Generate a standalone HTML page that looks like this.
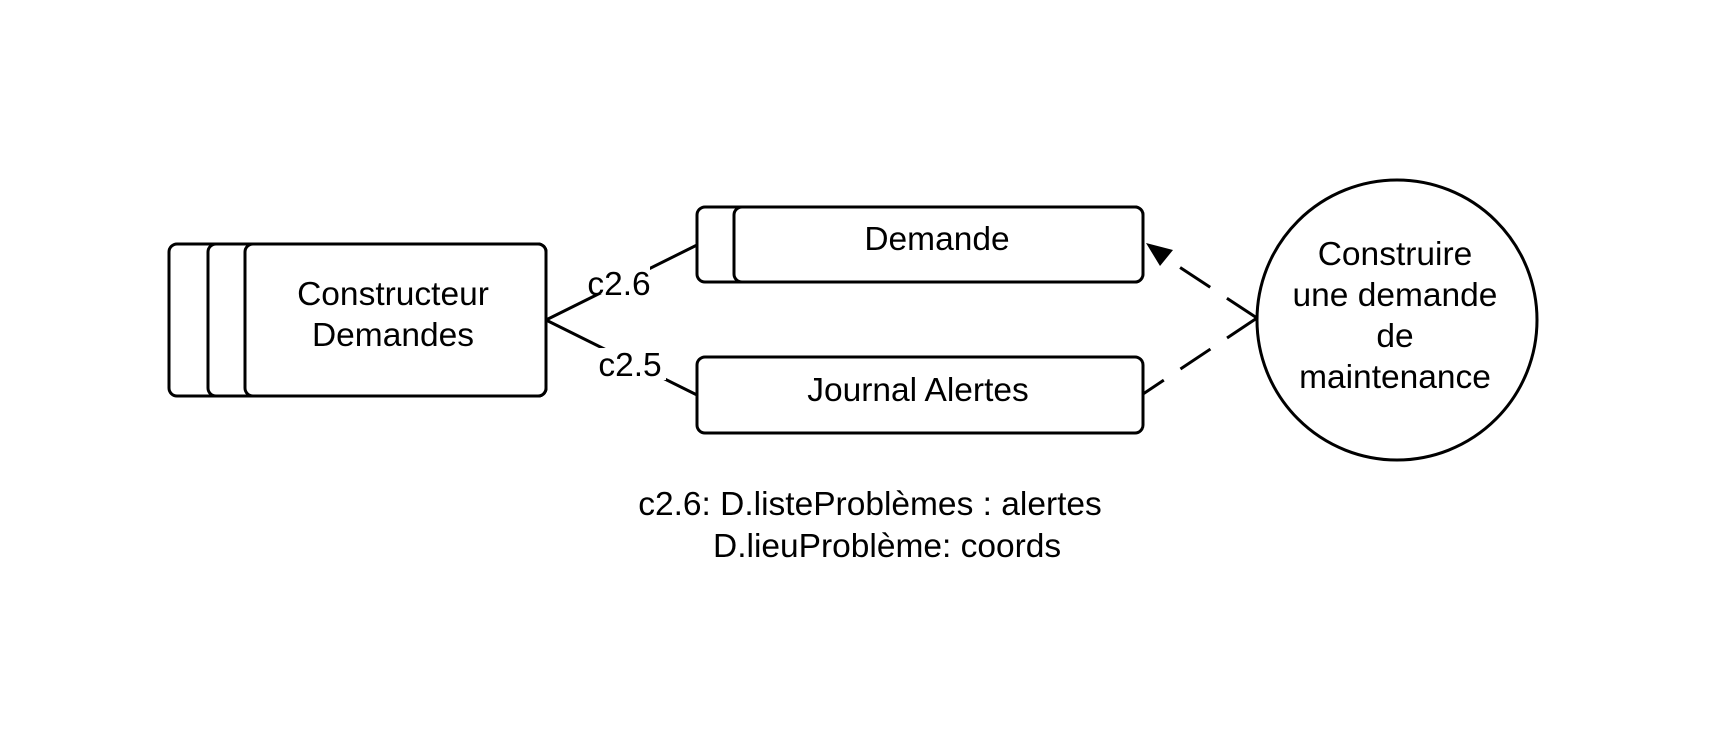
<!DOCTYPE html>
<html><head><meta charset="utf-8"><style>
html,body{margin:0;padding:0;background:#fff;}
svg{display:block;}
text{font-family:"Liberation Sans",Arial,sans-serif;font-size:33.5px;fill:#000;}
</style></head><body>
<svg width="1725" height="750" viewBox="0 0 1725 750" xmlns="http://www.w3.org/2000/svg">
<g fill="#fff" stroke="#000" stroke-width="3">
<rect x="169" y="244" width="377" height="152" rx="8"/>
<rect x="208" y="244" width="338" height="152" rx="8"/>
<rect x="245" y="244" width="301" height="152" rx="8"/>
<rect x="697" y="207" width="446" height="75" rx="8"/>
<rect x="734" y="207" width="409" height="75" rx="8"/>
<rect x="697" y="357" width="446" height="76" rx="8"/>
<circle cx="1397" cy="320" r="140"/>
</g>
<g stroke="#000" stroke-width="3" fill="none">
<line x1="546" y1="320" x2="697" y2="245"/>
<line x1="546" y1="320" x2="697" y2="395"/>
<line x1="1257" y1="318" x2="1155" y2="251" stroke-dasharray="36,20"/>
<line x1="1257" y1="318" x2="1143" y2="394" stroke-dasharray="36,20"/>
</g>
<polygon points="1146,243 1173,250 1160,266" fill="#000"/>
<rect x="588" y="262" width="62" height="32" fill="#fff"/>
<rect x="598" y="348" width="68" height="32" fill="#fff"/>
<text x="619" y="295" text-anchor="middle">c2.6</text>
<text x="630" y="376" text-anchor="middle">c2.5</text>
<g text-anchor="middle">
<text x="393" y="305">Constructeur</text>
<text x="393" y="346">Demandes</text>
<text x="937" y="250">Demande</text>
<text x="918" y="401">Journal Alertes</text>
<text x="1395" y="265">Construire</text>
<text x="1395" y="306">une demande</text>
<text x="1395" y="347">de</text>
<text x="1395" y="388">maintenance</text>
<text x="870" y="515">c2.6: D.listeProblèmes : alertes</text>
</g>
<text x="713" y="557">D.lieuProblème: coords</text>
</svg>
</body></html>
